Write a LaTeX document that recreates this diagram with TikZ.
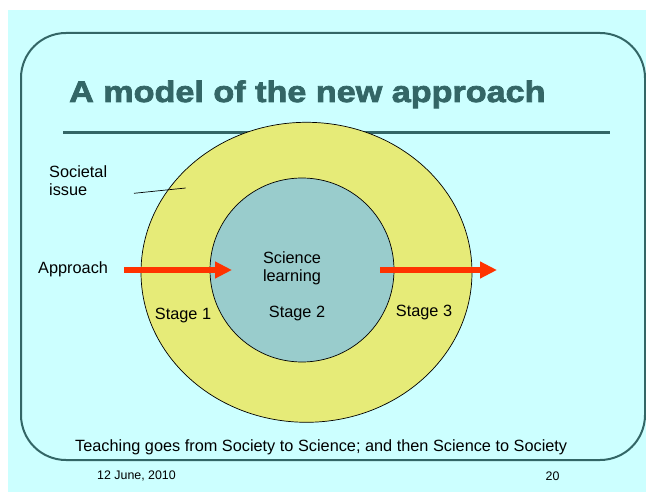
\documentclass[tikz,border=0pt]{standalone}
\usepackage{fontspec}
\setmainfont{Liberation Sans}
\newfontfamily\titlefont{Liberation Sans}[FakeStretch=1.15,FakeBold=2.5]
\usetikzlibrary{shapes.geometric,arrows.meta}

\definecolor{slidebg}{HTML}{CCFFFF}
\definecolor{frameteal}{HTML}{336666}
\definecolor{ringyellow}{HTML}{E6EB78}
\definecolor{coreteal}{HTML}{99CCCC}
\definecolor{arrowred}{HTML}{FF3300}

\tikzset{
  lbl/.style={inner sep=0pt, font=\fontsize{16.3}{18.3}\selectfont},
  small/.style={inner sep=0pt, font=\fontsize{12.4}{14}\selectfont},
  redarrow/.style={arrowred, line width=5.4pt, -{Triangle[length=17pt,width=16pt]}}
}

\begin{document}
\begin{tikzpicture}[x=1pt,y=-1pt]
\useasboundingbox (0,0) rectangle (646,492);
\fill[white] (0,0) rectangle (646,492);
\fill[slidebg] (8,10) rectangle (646,492);
% slide frame and heading
\draw[frameteal, line width=2pt, rounded corners=45pt] (21,33) rectangle (645,460);
\node[anchor=base west, inner sep=0pt, text=frameteal, font=\titlefont\bfseries\fontsize{29.7}{32}\selectfont] (title) at (69,102) {A model of the new approach};
\draw[frameteal, line width=2.6pt] (63,132.5) -- (610,132.5);
% the two rings
\node[ellipse, draw, line width=0.7pt, fill=ringyellow, minimum width=331pt, minimum height=300pt, inner sep=0pt] (society) at (306.5,272.3) {};
\node[circle, draw, line width=0.7pt, fill=coreteal, minimum size=184pt, inner sep=0pt] (science) at (302,270) {};
% labels
\node[lbl, anchor=west, align=left] (issue) at (49,181) {Societal\\issue};
\coordinate (issue from) at (134,193.3);
\coordinate (issue to) at (185.7,188);
\draw[line width=0.7pt] (issue from) -- (issue to);
\node[lbl, anchor=west] (approach) at (38,269) {Approach};
\node[lbl, align=center] (learning) at (292,268) {Science\\learning};
\node[lbl] (stage1) at (183,316) {Stage 1};
\node[lbl] (stage2) at (297,314) {Stage 2};
\node[lbl] (stage3) at (424,313) {Stage 3};
% arrows in and out
\coordinate (in from) at (124,270);
\coordinate (in to) at (232,270);
\coordinate (out from) at (380,270);
\coordinate (out to) at (497,270);
\draw[redarrow] (in from) -- (in to);
\draw[redarrow] (out from) -- (out to);
% footer
\node[lbl, anchor=west] (caption) at (75,447) {Teaching goes from Society to Science; and then Science to Society};
\node[small, anchor=west] (date) at (97,476) {12 June, 2010};
\node[small] (page) at (552.5,476) {20};
\end{tikzpicture}
\end{document}
